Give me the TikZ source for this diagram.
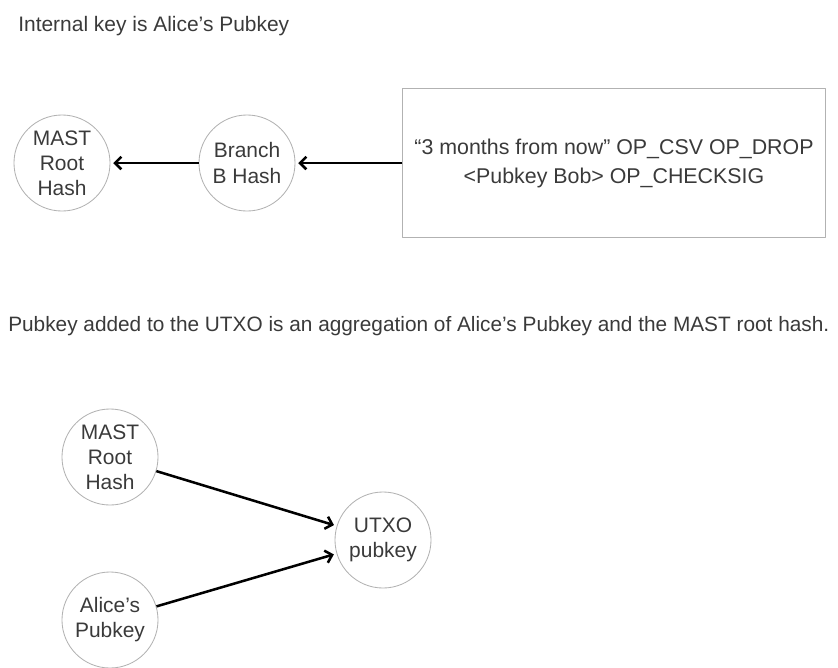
\documentclass[tikz,border=0pt]{standalone}
\usepackage{fontspec}
\setmainfont{Liberation Sans}
\usetikzlibrary{arrows.meta}
\definecolor{inkgray}{RGB}{58,58,58}
\definecolor{ringgray}{RGB}{178,178,178}

\begin{document}
\begin{tikzpicture}[x=0.025cm,y=-0.025cm,line join=round,
  every node/.style={text=inkgray,font=\fontsize{14.9}{17.8}\selectfont},
  hashnode/.style={circle,draw=ringgray,line width=0.6pt,minimum size=2.4cm,inner sep=0pt,align=center},
  scriptbox/.style={rectangle,draw=ringgray,line width=0.7pt,minimum width=10.55cm,minimum height=3.7cm,align=center,font=\fontsize{15.2}{20.6}\selectfont},
  caption/.style={anchor=base west,inner sep=0pt},
  link/.style={line width=1.8pt,shorten >=2pt,-{Straight Barb[length=4.5pt,width=9pt]}}]
  \useasboundingbox (0,0) rectangle (838,667);
  % internal key and the script branch
  \node[caption] (internal) at (18,31) {Internal key is Alice's Pubkey};
  \node[hashnode] (rootA) at (62,163) {MAST\\Root\\Hash};
  \node[hashnode] (branch) at (247,163) {Branch\\B Hash};
  \node[scriptbox] (script) at (614,163) {“3 months from now” OP\_CSV OP\_DROP\\<Pubkey Bob> OP\_CHECKSIG};
  \draw[link] (branch) -- (rootA);
  \draw[link] (script) -- (branch);
  % aggregated key in the output
  \node[caption,font=\fontsize{14.8}{17.8}\selectfont] (aggregate) at (8,331) {Pubkey added to the UTXO is an aggregation of Alice's Pubkey and the MAST root hash.};
  \node[hashnode] (rootB) at (110,457) {MAST\\Root\\Hash};
  \node[hashnode] (alice) at (110,620) {Alice's\\Pubkey};
  \node[hashnode] (utxo) at (383,540) {UTXO\\pubkey};
  \draw[link] (rootB) -- (utxo);
  \draw[link] (alice) -- (utxo);
\end{tikzpicture}
\end{document}
